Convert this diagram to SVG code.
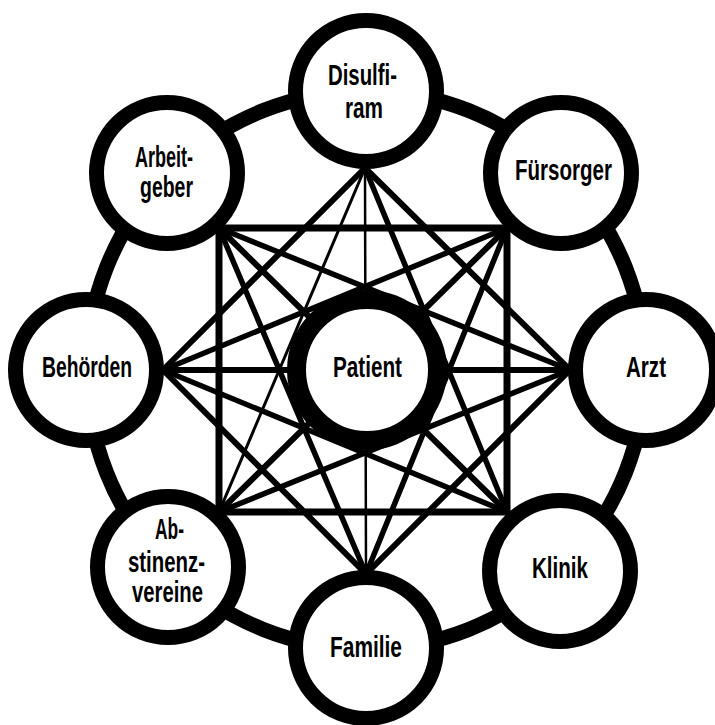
<svg xmlns="http://www.w3.org/2000/svg" width="715" height="725" viewBox="0 0 715 725">
<style>
.node{fill:#fff;stroke:#000;stroke-width:15}
.center{fill:#fff;stroke:#000;stroke-width:19}
.ring{fill:none;stroke:#000;stroke-width:15}
.e{stroke:#000;stroke-linecap:round;fill:none}
.sq{stroke-width:7}
.dm{stroke-width:6}
.st{stroke-width:5.5}
.di{stroke-width:6}
.thin{stroke-width:3}
.hair{stroke-width:2.5}
text{font-family:"Liberation Sans",Arial,sans-serif;font-weight:bold;font-size:29px;text-anchor:middle;fill:#000}
</style>
<rect width="715" height="725" fill="#fff"/>
<g id="connectors">
<circle class="ring" cx="366" cy="370" r="279"/>
<!-- square -->
<line class="e sq" x1="219" y1="228" x2="507" y2="228"/>
<line class="e sq" x1="507" y1="228" x2="507" y2="512"/>
<line class="e sq" x1="507" y1="512" x2="219" y2="512"/>
<line class="e sq" x1="219" y1="512" x2="219" y2="228"/>
<!-- diamond -->
<line class="e dm" x1="365" y1="168" x2="570" y2="370"/>
<line class="e dm" x1="570" y1="370" x2="366" y2="574"/>
<line class="e dm" x1="366" y1="574" x2="163" y2="370"/>
<line class="e dm" x1="163" y1="370" x2="365" y2="168"/>
<!-- star -->
<line class="e st" x1="365" y1="168" x2="507" y2="512"/>
<line class="e st" x1="507" y1="228" x2="366" y2="574"/>
<line class="e st" x1="570" y1="370" x2="219" y2="512"/>
<line class="e st" x1="507" y1="512" x2="163" y2="370"/>
<line class="e st" x1="366" y1="574" x2="219" y2="228"/>
<line class="e thin" x1="219" y1="512" x2="365" y2="168"/>
<line class="e st" x1="163" y1="370" x2="507" y2="228"/>
<line class="e st" x1="219" y1="228" x2="570" y2="370"/>
<!-- diameters -->
<line class="e hair" x1="365" y1="168" x2="366" y2="574"/>
<line class="e di" x1="507" y1="228" x2="219" y2="512"/>
<line class="e di" x1="570" y1="370" x2="163" y2="370"/>
<line class="e di" x1="507" y1="512" x2="219" y2="228"/>
</g>
<g id="patient">
<circle class="center" cx="367" cy="370" r="70.5"/>
<text x="367.5" y="377" textLength="69" lengthAdjust="spacingAndGlyphs">Patient</text>
</g>
<g id="disulfiram">
<circle class="node" cx="366" cy="91" r="70.5"/>
<text x="362.5" y="85" textLength="69" lengthAdjust="spacingAndGlyphs">Disulfi-</text>
<text x="364" y="118" textLength="38" lengthAdjust="spacingAndGlyphs">ram</text>
</g>
<g id="fuersorger">
<circle class="node" cx="561" cy="173" r="70.5"/>
<text x="563.5" y="180" textLength="97" lengthAdjust="spacingAndGlyphs">Fürsorger</text>
</g>
<g id="arzt">
<circle class="node" cx="646" cy="370" r="70.5"/>
<text x="646" y="377" textLength="40" lengthAdjust="spacingAndGlyphs">Arzt</text>
</g>
<g id="klinik">
<circle class="node" cx="560" cy="571" r="70.5"/>
<text x="560" y="578" textLength="56" lengthAdjust="spacingAndGlyphs">Klinik</text>
</g>
<g id="familie">
<circle class="node" cx="366" cy="648" r="70.5"/>
<text x="366" y="657" textLength="72" lengthAdjust="spacingAndGlyphs">Familie</text>
</g>
<g id="abstinenzvereine">
<circle class="node" cx="168" cy="567" r="70.5"/>
<text x="169.5" y="539" textLength="29" lengthAdjust="spacingAndGlyphs">Ab-</text>
<text x="166.5" y="572" textLength="77" lengthAdjust="spacingAndGlyphs">stinenz-</text>
<text x="167.5" y="602" textLength="71" lengthAdjust="spacingAndGlyphs">vereine</text>
</g>
<g id="behoerden">
<circle class="node" cx="86" cy="370" r="70.5"/>
<text x="87" y="377" textLength="90" lengthAdjust="spacingAndGlyphs">Behörden</text>
</g>
<g id="arbeitgeber">
<circle class="node" cx="167" cy="173" r="70.5"/>
<text x="164" y="167" textLength="58" lengthAdjust="spacingAndGlyphs">Arbeit-</text>
<text x="166.5" y="197" textLength="53" lengthAdjust="spacingAndGlyphs">geber</text>
</g>
</svg>
